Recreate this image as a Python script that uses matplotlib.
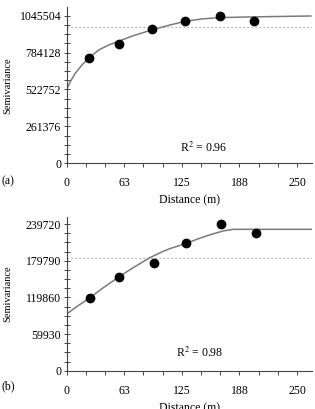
import matplotlib
matplotlib.use("Agg")
import matplotlib.pyplot as plt
from matplotlib.ticker import FixedLocator, MultipleLocator

plt.rcParams['font.family'] = ['Liberation Serif', 'DejaVu Serif']
plt.rcParams['mathtext.fontset'] = 'stix'

# Panel (a) data
a_lag = [24.5, 57, 92.1, 128.2, 166.2, 203]
a_gamma = [748000, 845000, 949100, 1010100, 1045500, 1007900]
a_curve_x = [0, 3.9, 9.3, 16.6, 24.5, 34.7, 45.5, 57, 72.2, 92.1, 112, 128.2, 146,
             166, 202, 230, 265]
a_curve_y = [524100, 578000, 637500, 696800, 748000, 802500, 837900, 866300, 903800,
             944200, 979600, 1005000, 1022000, 1032000, 1037000, 1040000, 1043400]
a_sill = 967600
a_yticks = [0, 261376, 522752, 784128, 1045504]
a_r2 = "R$^2$ = 0.96"

# Panel (b) data
b_lag = [25.3, 57, 94.6, 130, 168, 206]
b_gamma = [119300, 153600, 175500, 209200, 239700, 224500]
b_curve_x = [0, 10.8, 25.3, 39.7, 57, 68.6, 79.5, 90.3, 104.7, 112, 130, 144.5,
             155.3, 169.8, 180.6, 265.6]
b_curve_y = [92650, 104600, 119300, 135600, 153600, 165000, 175000, 184700, 195000,
             199500, 208200, 216500, 222000, 228300, 231000, 231000]
b_sill = 184700
b_yticks = [0, 59930, 119860, 179790, 239720]
b_r2 = "R$^2$ = 0.98"

xtick_pos = [0, 62.5, 125, 187.5, 250]
xtick_labels = ["0", "63", "125", "188", "250"]

fig = plt.figure(figsize=(3.15, 4.09), dpi=100)
W, H = 315, 409
LEFT_PX, RIGHT_PX = 66.7, 311.7
AW = RIGHT_PX - LEFT_PX


def make_panel(bottom_px, top_px, lag, gamma, cx, cy, sill, yticks, ymax,
               r2, r2x, r2y, letter, letter_dy):
    ah = bottom_px - top_px
    ax = fig.add_axes([LEFT_PX / W, (H - bottom_px) / H, AW / W, ah / H])
    ax.set_xlim(0, 266)
    ax.set_ylim(0, ymax)
    for s in ['top', 'right']:
        ax.spines[s].set_visible(False)
    for s in ['left', 'bottom']:
        ax.spines[s].set_color('#444444')
        ax.spines[s].set_linewidth(0.8)
    ax.plot([0, 266], [sill, sill], linestyle=(0, (1, 2.2)), color='#999999', lw=0.9)
    ax.plot(cx, cy, color='#7a7a7a', lw=1.1, solid_joinstyle='round')
    ax.plot(lag, gamma, 'o', color='black', markersize=6)
    ax.xaxis.set_major_locator(FixedLocator(xtick_pos))
    ax.set_xticklabels(xtick_labels)
    ax.xaxis.set_minor_locator(MultipleLocator(62.5 / 3))
    ax.yaxis.set_major_locator(FixedLocator(yticks))
    ax.set_yticklabels([str(t) for t in yticks])
    ax.yaxis.set_minor_locator(MultipleLocator(yticks[1] / 4))
    ax.tick_params(axis='x', which='both', direction='out', length=3, width=0.7,
                   color='#444444', labelsize=8.5, pad=7)
    ax.tick_params(axis='y', which='both', direction='inout', length=4, width=0.7,
                   color='#444444', labelsize=8.5, pad=2)
    ax.set_xlabel("Distance (m)", fontsize=8.5, labelpad=4)
    ax.set_ylabel("Semivariance", fontsize=7.5)
    ax.yaxis.set_label_coords(-54.0 / AW, 0.5)
    ax.text(r2x, r2y, r2, fontsize=8.5, ha='center', va='center')
    ax.text(-65.0 / AW, -letter_dy / ah, letter, transform=ax.transAxes,
            fontsize=8.5, ha='left', va='center')
    return ax


make_panel(163.3, 7.3, a_lag, a_gamma, a_curve_x, a_curve_y, a_sill, a_yticks,
           1105000, a_r2, 149, 108000, "(a)", 18.4)
make_panel(370.7, 216.7, b_lag, b_gamma, b_curve_x, b_curve_y, b_sill, b_yticks,
           251650, b_r2, 144.5, 28400, "(b)", 16.0)

fig.savefig("out.png", dpi=100)
